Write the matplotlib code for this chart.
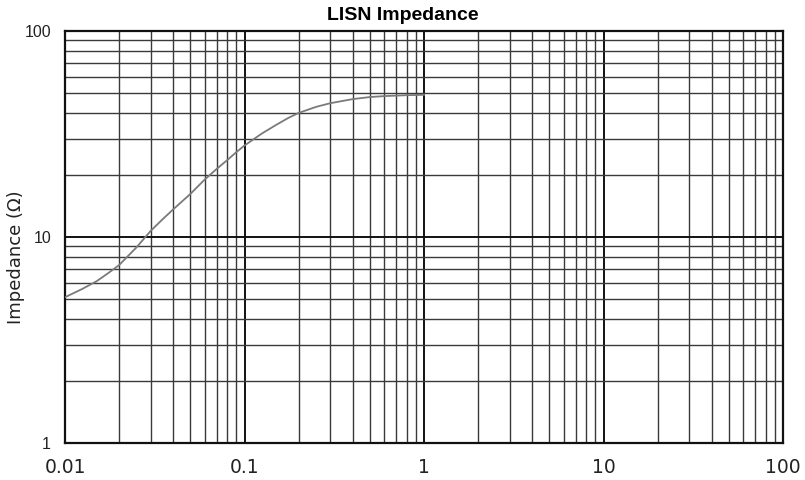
import matplotlib
matplotlib.use("Agg")
import matplotlib.pyplot as plt
from matplotlib.ticker import LogLocator, FixedLocator, NullFormatter

freq = [0.01, 0.0125, 0.015, 0.0175, 0.02, 0.025, 0.03, 0.035, 0.04, 0.05, 0.06, 0.07,
        0.08, 0.09, 0.1, 0.125, 0.15, 0.175, 0.2, 0.25, 0.3, 0.4, 0.5, 0.6, 0.8, 1.0]
imp = [5.1, 5.6, 6.1, 6.7, 7.3, 8.9, 10.7, 12.2, 13.6, 16.2, 19.0, 21.4,
       23.6, 25.8, 27.8, 31.8, 35.0, 37.8, 40.0, 42.8, 44.6, 46.7, 47.8, 48.3, 48.8, 49.0]

x_ticks = [0.01, 0.1, 1, 10, 100]
x_labels = ["0.01", "0.1", "1", "10", "100"]
y_ticks = [1, 10, 100]
y_labels = ["1", "10", "100"]

plt.rcParams['font.family'] = ['DejaVu Sans']

fig = plt.figure(figsize=(8.05, 4.8), dpi=100)
ax = fig.add_axes([65/805, 1-443/480, (783-65)/805, (443-31)/480])
ax.set_xscale('log')
ax.set_yscale('log')
ax.set_xlim(0.01, 100)
ax.set_ylim(1, 100)

ax.xaxis.set_major_locator(FixedLocator(x_ticks))
ax.set_xticklabels(x_labels)
ax.yaxis.set_major_locator(FixedLocator(y_ticks))
ax.set_yticklabels(y_labels)
ax.xaxis.set_minor_locator(LogLocator(base=10, subs=range(2, 10), numticks=20))
ax.yaxis.set_minor_locator(LogLocator(base=10, subs=range(2, 10), numticks=20))
ax.xaxis.set_minor_formatter(NullFormatter())
ax.yaxis.set_minor_formatter(NullFormatter())

ax.grid(True, which='major', color='#111111', linewidth=1.4)
ax.grid(True, which='minor', color='#3a3a3a', linewidth=1.0)
ax.tick_params(which='both', length=0)
ax.tick_params(axis='x', labelsize=13.5, colors='#222222', pad=11)
ax.tick_params(axis='y', labelsize=11.5, colors='#222222', pad=10)
for lbl in ax.get_yticklabels():
    lbl.set_family(['Liberation Sans Narrow', 'Liberation Sans'])
for s in ax.spines.values():
    s.set_linewidth(1.6)
    s.set_color('#111111')

ax.plot(freq, imp, color='#7a7a7a', linewidth=1.3, zorder=3)

fig.text(0.5, 1-15/480, "LISN Impedance", fontsize=14, fontweight='bold',
         family=['Liberation Sans', 'DejaVu Sans'], ha='center', va='center')
fig.text(16/805, 1-257/480, "Impedance (\u03a9)", fontsize=13, color='#222222',
         rotation=90, ha='center', va='center')

fig.savefig("out.png", dpi=100)
